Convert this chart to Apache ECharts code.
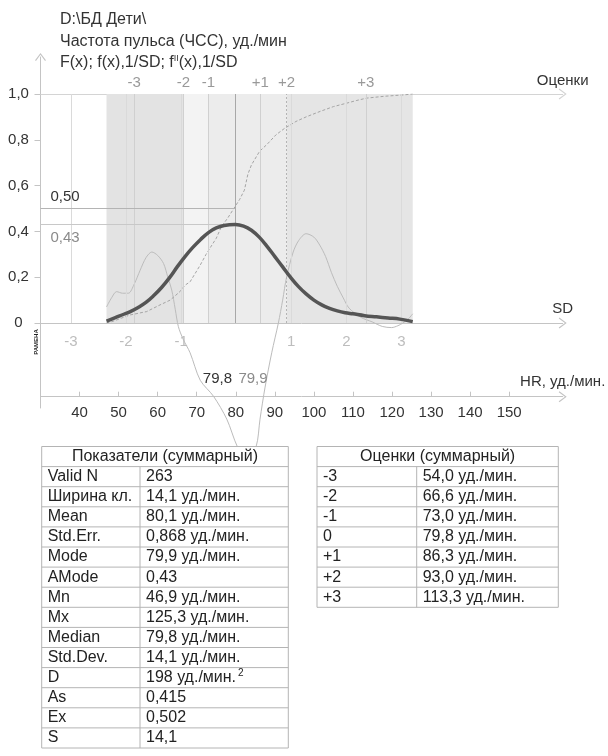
<!DOCTYPE html>
<html>
<head>
<meta charset="utf-8">
<title>HR</title>
<script src="https://cdn.jsdelivr.net/npm/echarts@6/dist/echarts.min.js"></script>
<style>html,body{margin:0;padding:0;background:#fff;}</style>
</head>
<body>
<div id="main" style="width:608px;height:756px;"></div>
<script type="text/javascript">

var FONT = '"Liberation Sans", Arial, sans-serif';

// axes
var hrTicks = [40, 50, 60, 70, 80, 90, 100, 110, 120, 130, 140, 150];
var yTicks = [0, 0.2, 0.4, 0.6, 0.8, 1];
var sdMean = 80.1, sdStep = 14.1;
var sdMarks = [-3, -2, -1, 1, 2, 3];
var scoreNames = ['-3', '-2', '-1', '0', '+1', '+2', '+3'];
var scoreValues = [54.0, 66.6, 73.0, 79.8, 86.3, 93.0, 113.3];
var hrMin = 46.9, hrMax = 125.3, median = 79.8, mode = 79.9, modeHeight = 0.43, halfLevel = 0.5;

// f(x),1/SD  (thick curve)
var density = [[46.9,0.008],[49,0.022],[51,0.036],[53,0.05],[55,0.068],[57,0.09],[59,0.12],[61,0.155],
  [63,0.197],[65,0.245],[67,0.29],[69,0.33],[71,0.365],[73,0.395],[75,0.415],[77,0.426],[79.9,0.43],
  [82,0.423],[84,0.405],[86,0.375],[88,0.335],[90,0.29],[92,0.245],[94,0.2],[96,0.16],[98,0.127],
  [100,0.1],[102,0.079],[104,0.064],[106,0.053],[108,0.045],[110,0.04],[113,0.032],[116,0.027],
  [119,0.022],[122,0.017],[125.3,0.006]];

// F(x)  (cumulative)
var cumulative = [[46.9,0.0],[48.7,0.008],[50.5,0.02],[52.9,0.035],[57.2,0.05],[60.6,0.079],[63.2,0.1],
  [65.7,0.137],[67,0.165],[68.3,0.18],[70.9,0.253],[72.4,0.3],[73.5,0.33],[75,0.37],[76.3,0.42],
  [78,0.46],[79.5,0.5],[81,0.54],[82.2,0.58],[83.1,0.65],[84,0.69],[86.1,0.75],[88,0.78],[90.3,0.822],
  [92.5,0.85],[95.4,0.88],[98,0.9],[101.6,0.924],[105,0.945],[108.4,0.96],[111,0.972],[113.5,0.982],
  [118,0.99],[122.9,0.996],[125.3,1.0]];

// f''(x),1/SD  (thin curve)
var secondDeriv = [[46.9,0.07],[48.2,0.11],[49.5,0.137],[51,0.13],[52.5,0.13],[54,0.17],[55.5,0.23],
  [57,0.285],[58.5,0.31],[60,0.295],[61.5,0.26],[62.6,0.2],[63.6,0.144],[64.5,0.06],[65.3,-0.016],
  [66.5,-0.07],[68.3,-0.13],[70.9,-0.25],[74.3,-0.32],[77.7,-0.42],[80.4,-0.54],[82.8,-0.6],
  [85.2,-0.54],[86.2,-0.42],[87.5,-0.28],[89.2,-0.13],[90.9,0.0],[92,0.1],[93,0.2],[94.7,0.31],
  [96.1,0.36],[98,0.39],[100,0.375],[101.5,0.34],[103,0.29],[104.5,0.22],[106,0.16],[107.5,0.11],
  [109,0.065],[112,0.025],[114.9,0.005],[117.5,-0.015],[119.9,-0.02],[121.5,-0.012],[122.8,0.0],
  [124.3,0.02],[125.3,0.04]];

// tables
var statNames = ['Valid N', 'Ширина кл.', 'Mean', 'Std.Err.', 'Mode', 'AMode', 'Mn', 'Mx',
  'Median', 'Std.Dev.', 'D', 'As', 'Ex', 'S'];
var statValues = ['263', '14,1 уд./мин.', '80,1 уд./мин.', '0,868 уд./мин.', '79,9 уд./мин.', '0,43',
  '46,9 уд./мин.', '125,3 уд./мин.', '79,8 уд./мин.', '14,1 уд./мин.', '198 уд./мин.{sup|2}',
  '0,415', '0,502', '14,1'];

function comma(v, d) { return v.toFixed(d).replace('.', ','); }

var xMin = 30, xMax = 163.7;
var arrow = 'path://M0,8L6,0L12,8L11,8.8L6,2L1,8.8Z';
var axisGray = '#c4c4c4';
var gridL = 40.5, gridR = 45.3;

var sdValues = sdMarks.map(function (k) { return sdMean + k * sdStep; });
var scoreTicks = scoreValues.filter(function (v, i) { return scoreNames[i] !== '0'; });

function nearestScore(v) {
  var best = 0;
  for (var i = 0; i < scoreValues.length; i++) {
    if (Math.abs(scoreValues[i] - v) < Math.abs(scoreValues[best] - v)) best = i;
  }
  return scoreNames[best];
}

// bands between score marks
var bandEdges = [hrMin, scoreValues[1], scoreValues[2], scoreValues[5], hrMax];
var bandColors = ['#e3e3e3', '#f3f3f3', '#ececec', '#e5e5e5'];
var bands = [];
for (var b = 0; b < bandColors.length; b++) {
  bands.push([{ coord: [bandEdges[b], 0], itemStyle: { color: bandColors[b] } }, { coord: [bandEdges[b + 1], 1] }]);
}

function vline(x, color, type) {
  return [{ coord: [x, 0], lineStyle: { color: color, width: 1, type: type || 'solid' } }, { coord: [x, 1] }];
}
var lines = [];
sdValues.forEach(function (v) { lines.push(vline(v, '#dadada')); });
scoreValues.forEach(function (v, i) {
  if (scoreNames[i] === '0') lines.push(vline(v, '#a8a8a8'));
  else if (scoreNames[i] === '+2') lines.push(vline(v, '#b4b4b4', [2, 2]));
  else lines.push(vline(v, '#d0d0d0'));
});
lines.push([{ coord: [xMin, halfLevel], lineStyle: { color: '#b4b4b4', width: 1, type: 'solid' },
  label: { show: true, formatter: comma(halfLevel, 2), position: 'insideStartTop', distance: [10, 4], color: '#333', fontSize: 15 } },
  { coord: [median, halfLevel] }]);
lines.push([{ coord: [xMin, modeHeight], lineStyle: { color: '#c8c8c8', width: 1, type: 'solid' },
  label: { show: true, formatter: comma(modeHeight, 2), position: 'insideStartBottom', distance: [10, 6], color: '#8a8a8a', fontSize: 15 } },
  { coord: [mode, modeHeight] }]);

function buildTable(x0, x1, xDiv, top, rowH, header, names, values) {
  var els = [];
  var total = (names.length + 1) * rowH;
  var stroke = '#b4b4b4';
  var font = '16px ' + FONT;
  els.push({ type: 'rect', z: 50, shape: { x: x0, y: top, width: x1 - x0, height: total },
    style: { fill: '#fff', stroke: stroke, lineWidth: 1 } });
  els.push({ type: 'text', z: 52, x: (x0 + x1) / 2, y: top + rowH / 2,
    style: { text: header, font: font, fill: '#222', align: 'center', verticalAlign: 'middle', textAlign: 'center', textVerticalAlign: 'middle' } });
  for (var i = 0; i < names.length; i++) {
    var yy = top + (i + 1) * rowH;
    els.push({ type: 'line', z: 51, shape: { x1: x0, y1: yy, x2: x1, y2: yy }, style: { stroke: stroke, lineWidth: 1 } });
    els.push({ type: 'text', z: 52, x: x0 + 6, y: yy + rowH / 2,
      style: { text: names[i], font: font, fill: '#222', verticalAlign: 'middle', textVerticalAlign: 'middle' } });
    els.push({ type: 'text', z: 52, x: xDiv + 6, y: yy + rowH / 2,
      style: { text: values[i], font: font, fill: '#222', verticalAlign: 'middle', textVerticalAlign: 'middle',
        rich: { sup: { font: '10px ' + FONT, fill: '#222', padding: [0, 0, 8, 2] } } } });
  }
  els.push({ type: 'line', z: 51, shape: { x1: xDiv, y1: top + rowH, x2: xDiv, y2: top + total }, style: { stroke: stroke, lineWidth: 1 } });
  return els;
}

var rowH = 20.1, tableTop = 446.5;
var graphics = []
  .concat(buildTable(41.7, 288.3, 140, tableTop, rowH, 'Показатели (суммарный)', statNames, statValues))
  .concat(buildTable(317, 558.3, 416.7, tableTop, rowH, 'Оценки (суммарный)', scoreNames,
    scoreValues.map(function (v) { return comma(v, 1) + ' уд./мин.'; })));
graphics.push({ type: 'text', z: 10, x: 36, y: 342, rotation: Math.PI / 2,
  style: { text: 'РАМЕНА', font: 'bold 6px ' + FONT, fill: '#222', align: 'center', verticalAlign: 'middle', textAlign: 'center', textVerticalAlign: 'middle' } });

var hidden = { show: false };
function nameStyle(pad) {
  return { align: 'center', verticalAlign: 'bottom', padding: [0, 0, pad, 0], color: '#333', fontSize: 15 };
}
function blankX(gridIndex) {
  return { type: 'value', gridIndex: gridIndex, min: xMin, max: xMax, show: false };
}

var option = {
  animation: false,
  backgroundColor: '#fff',
  textStyle: { fontFamily: FONT },
  title: {
    left: 55, top: 4,
    text: 'D:\\БД Дети\\\nЧастота пульса (ЧСС), уд./мин\nF(x); f(x),1/SD; f{sup|II}(x),1/SD',
    textStyle: { fontSize: 16, fontWeight: 'normal', color: '#333', fontFamily: FONT, lineHeight: 21.5,
      rich: { sup: { fontSize: 9, color: '#333', padding: [0, 0, 8, 0], fontFamily: FONT } } }
  },
  grid: [
    // plot area: score line (1,0) on top, SD line (0) at bottom
    { left: gridL, right: gridR, top: 94, bottom: 433, outerBoundsMode: 'none' },
    // HR axis
    { left: gridL, right: gridR, top: 57, bottom: 359.3, outerBoundsMode: 'none' },
    // long y axis
    { left: gridL, right: gridR, top: 57, bottom: 348, outerBoundsMode: 'none' }
  ],
  xAxis: [
    { // SD axis
      type: 'value', gridIndex: 0, min: xMin, max: xMax, position: 'bottom',
      axisLine: { show: true, onZero: false, lineStyle: { color: axisGray }, symbol: ['none', arrow], symbolSize: [11, 8] },
      axisTick: hidden,
      axisLabel: { customValues: sdValues, margin: 11, color: '#bdbdbd', fontSize: 15,
        formatter: function (v) { return String(Math.round((v - sdMean) / sdStep)); } },
      splitLine: hidden,
      name: 'SD', nameLocation: 'end', nameGap: 0, nameMoveOverlap: false, nameTextStyle: nameStyle(7)
    },
    { // score axis
      type: 'value', gridIndex: 0, min: xMin, max: xMax, position: 'top',
      axisLine: { show: true, onZero: false, lineStyle: { color: '#d4d4d4' }, symbol: ['none', arrow], symbolSize: [11, 8] },
      axisTick: hidden,
      axisLabel: { customValues: scoreTicks, margin: 4, color: '#999', fontSize: 15, formatter: nearestScore },
      splitLine: hidden,
      name: 'Оценки', nameLocation: 'end', nameGap: 0, nameMoveOverlap: false, nameTextStyle: nameStyle(6)
    },
    { // HR axis
      type: 'value', gridIndex: 1, min: xMin, max: xMax, position: 'bottom',
      axisLine: { show: true, onZero: false, lineStyle: { color: axisGray }, symbol: ['none', arrow], symbolSize: [11, 8] },
      axisTick: { show: true, customValues: hrTicks, inside: true, length: 5, lineStyle: { color: axisGray } },
      axisLabel: { customValues: hrTicks, margin: 9, color: '#333', fontSize: 15 },
      splitLine: hidden,
      name: 'HR, уд./мин.', nameLocation: 'end', nameGap: 0, nameMoveOverlap: false, nameTextStyle: nameStyle(7)
    },
    blankX(2)
  ],
  yAxis: [
    { type: 'value', gridIndex: 0, min: 0, max: 1, show: false },
    { type: 'value', gridIndex: 1, min: 0, max: 339.7, show: false },
    {
      type: 'value', gridIndex: 2, min: -0.37118, max: 1.16157, position: 'left',
      axisLine: { show: true, onZero: false, lineStyle: { color: axisGray }, symbol: ['none', arrow], symbolSize: [11, 8] },
      axisTick: { show: true, customValues: yTicks, length: 6, lineStyle: { color: axisGray } },
      axisLabel: { customValues: yTicks, align: 'center', margin: 22, color: '#333', fontSize: 15,
        formatter: function (v) { return v === 0 ? '0' : comma(v, 1); } },
      splitLine: hidden
    }
  ],
  graphic: graphics,
  series: [
    {
      type: 'line', name: 'frame', data: [], z: 1, silent: true, xAxisIndex: 0, yAxisIndex: 0,
      markArea: { silent: true, data: bands },
      markLine: { silent: true, symbol: ['none', 'none'], label: { show: false }, data: lines }
    },
    {
      type: 'line', name: 'labels', data: [], z: 6, silent: true, xAxisIndex: 2, yAxisIndex: 1,
      markPoint: {
        silent: true, symbol: 'circle', symbolSize: 0,
        data: [
          { coord: [median, 17.4], label: { show: true, position: 'left', distance: 3, formatter: comma(median, 1), color: '#333', fontSize: 15 } },
          { coord: [mode, 17.4], label: { show: true, position: 'right', distance: 3, formatter: comma(mode, 1), color: '#8a8a8a', fontSize: 15 } }
        ]
      }
    },
    {
      type: 'line', name: "f''(x)", data: secondDeriv, z: 3, smooth: 0.3, showSymbol: false, clip: false, silent: true,
      xAxisIndex: 0, yAxisIndex: 0,
      lineStyle: { color: '#bcbcbc', width: 1 }
    },
    {
      type: 'line', name: 'F(x)', data: cumulative, z: 4, showSymbol: false, silent: true,
      xAxisIndex: 0, yAxisIndex: 0,
      lineStyle: { color: '#a4a4a4', width: 1, type: [3, 2] }
    },
    {
      type: 'line', name: 'f(x)', data: density, z: 5, smooth: 0.4, showSymbol: false, silent: true,
      xAxisIndex: 0, yAxisIndex: 0,
      lineStyle: { color: '#555', width: 3.5 }
    }
  ]
};

var myChart = echarts.init(document.getElementById('main'));
myChart.setOption(option);
</script>
</body>
</html>
